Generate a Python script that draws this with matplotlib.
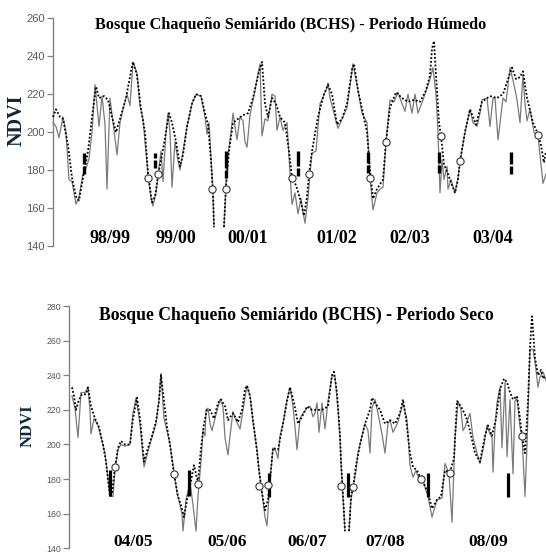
import numpy as np
import matplotlib
matplotlib.use("Agg")
import matplotlib.pyplot as plt

# ---------------- DATA ----------------
# Humid period panel (time axis in arbitrary composite-time units)
hum_dot_t = [53,56,60,63,68,72,76,79,83,88,93,96,99,104,108,112,116,120,126,131,133,137,141,145,148,152,155,158,162,166,169,172,176,180,183,187,192,196,201,205,208,211,213,214,219,224,226,229,233,238,243,248,253,258,262,265,268,272,276,280,285,289,292,296,300,304,307,309,312,318,324,328,332,337,342,347,352,354,358,363,367,370,373,377,383,386,390,396,402,408,414,420,426,430,432,434,436,439,441,444,448,452,455,458,460,465,470,476,482,490,497,503,508,512,516,520,523,527,533,538,541,544,546]
hum_dot_v = [208,212,208,207,193,176,166,164,176,190,212,224,218,219,217,208,200,207,218,232,237,230,212,200,178,163,166,177,188,200,210,205,195,182,188,203,215,220,219,210,204,185,168,150,np.nan,150,172,190,205,207,209,210,218,230,237,215,208,218,215,208,205,190,176,172,165,156,166,178,190,208,220,225,220,204,207,215,233,236,222,210,200,180,165,170,175,195,213,221,218,216,217,216,222,230,244,248,230,205,198,183,178,172,168,175,185,200,212,204,216,219,218,220,228,234,228,229,232,218,205,199,193,184,190]

hum_sol_t = [53,56,59,63,66,69,72,76,79,83,86,89,92,95,99,102,105,107,110,113,117,120,123,127,130,133,137,140,143,145,148,151,153,156,158,161,163,166,168,170,172,175,178,180,183,187,192,196,201,205,207,209,211,213,214,219,224,226,228,231,233,237,240,243,245,247,250,255,260,262,265,268,272,275,277,280,283,287,290,292,295,298,301,303,305,308,310,312,316,320,326,328,330,334,338,343,347,353,358,362,367,370,373,377,380,383,386,390,394,398,402,405,408,412,415,418,423,430,433,436,438,440,442,444,447,448,451,455,458,460,465,470,473,477,480,482,487,490,493,495,498,500,503,506,510,514,517,520,523,525,527,530,534,538,543,546]
hum_sol_v = [205,203,197,208,200,175,174,162,166,178,181,186,200,225,203,219,204,170,218,205,188,205,212,220,214,237,231,214,207,195,178,165,161,168,177,190,174,200,210,200,171,195,185,180,190,203,215,220,219,208,199,205,186,168,150,np.nan,150,172,188,200,210,196,208,206,195,192,209,222,236,198,207,206,220,219,201,208,201,205,178,162,168,157,165,158,152,165,178,189,190,215,222,226,218,210,202,208,213,236,222,210,205,176,159,168,170,171,195,217,216,221,215,211,220,210,220,210,217,228,234,220,200,168,185,175,182,170,175,168,176,184,200,212,205,203,210,217,218,203,218,218,196,205,218,216,234,225,217,205,230,215,206,212,200,198,173,178]

hum_circ_t = [148,158,212,226,292,309,370,386,441,460,538]
hum_circ_v = [176,178,170,170,176,178,176,195,198,185,198.5]

hum_bar_t = [84,155,226,298,368,439,511]
hum_bar_lo = [178,181,176,177,178.5,178.5,178]
hum_bar_hi = [189,189,190,190,189.5,189.5,189.5]

hum_years = ["98/99","99/00","00/01","01/02","02/03","03/04"]

# Dry period panel
dry_dot_t = [72,74,76,79,82,86,88,91,95,99,103,106,108,110,112,115,118,121,125,130,133,137,140,144,148,152,156,159,161,164,167,170,174,178,181,184,187,190,194,198,201,204,207,210,214,218,221,225,228,233,238,242,245,247,250,254,257,259,262,265,268,270,273,278,283,287,290,294,298,302,307,312,317,322,328,332,334,337,340,341,343,345,347,349,351,353,356,360,365,370,372,375,380,385,390,395,400,403,406,410,413,417,421,425,428,432,437,441,445,450,454,457,461,466,470,475,480,485,488,492,496,500,504,507,510,513,517,520,522,525,528,530,532,535,538,541,543,546]
dry_dot_v = [233,228,220,226,229,229,233,222,215,210,200,190,180,170,172,187,198,202,200,200,215,227,215,190,198,205,213,225,240,225,210,200,183,170,165,158,168,176,188,178,198,212,220,220,215,224,226,222,214,218,213,220,232,234,228,210,196,185,172,162,168,180,198,197,212,225,233,224,212,216,222,220,220,220,222,240,242,230,205,190,170,150,np.nan,150,170,175,188,200,212,220,227,224,220,212,214,212,218,226,215,195,187,185,180,176,172,163,168,170,185,184,192,225,222,216,208,195,190,205,211,205,215,232,238,236,230,226,228,215,205,195,225,256,274,250,240,243,238,240]

dry_sol_t = [72,75,78,81,85,88,90,91,94,98,102,105,108,110,113,115,118,121,125,130,133,136,140,144,148,152,156,159,161,164,167,170,174,177,180,182,183,186,190,193,196,198,201,203,205,206,208,210,212,215,220,223,225,228,230,233,236,240,243,247,250,253,257,259,262,265,267,269,271,273,276,278,280,283,287,290,293,295,297,300,303,307,310,313,315,317,319,322,325,328,332,335,338,340,341,343,345,347,349,351,353,356,358,362,365,368,370,372,375,378,382,385,388,390,393,398,403,407,410,413,416,419,422,425,428,432,437,442,445,449,452,455,458,461,463,465,470,473,477,480,484,487,490,492,493,495,497,500,502,505,507,510,513,515,517,520,522,525,527,530,533,535,538,540,543,546]
dry_sol_v = [228,221,204,230,230,233,220,206,215,211,202,195,180,170,170,185,197,200,199,200,218,227,212,187,196,204,212,226,241,215,208,200,184,172,165,160,150,168,178,165,150,170,190,208,205,220,221,212,208,215,226,222,204,194,205,219,214,209,220,234,228,213,197,185,172,158,153,170,185,198,196,192,205,212,226,233,222,210,197,215,218,221,222,216,218,224,207,224,209,225,240,239,220,204,190,170,150,np.nan,150,168,175,185,195,205,212,208,195,221,226,218,206,195,212,214,207,213,224,214,188,181,185,180,182,175,170,158,168,169,189,183,155,204,225,220,208,210,218,204,195,189,200,211,206,204,184,210,224,233,198,236,193,226,183,225,227,210,205,170,200,255,255,248,233,239,242,237]

dry_circ_t = [115,174,198,259,268,341,353,421,450,522]
dry_circ_v = [187,183,177,176,176.5,176,175.4,180,183.5,205]

dry_bar_t = [110,189,269,348,428,508]
dry_bar_lo = [170,170,169.6,169.6,169.6,169.6]
dry_bar_hi = [185,185,183.5,183.5,183.5,183.5]

dry_years = ["04/05","05/06","06/07","07/08","08/09"]

# ---------------- LAYOUT ----------------
W, H = 546, 553
fig = plt.figure(figsize=(W/100, H/100), dpi=100)
fig.patch.set_facecolor("white")

def fx(px): return px / W
def fy(py): return 1 - py / H

ax1 = fig.add_axes([fx(52.7), fy(246), 1 - fx(52.7), fy(18.3) - fy(246)])
ax2 = fig.add_axes([fx(69), fy(548.3), 1 - fx(69), fy(306) - fy(548.3)])

GRAY = "#7a7a7a"
TICKC = "#808080"
LABC = "#5a5a5a"

def style(ax, ylim, yt, lsize, xlim):
    ax.set_xlim(*xlim)
    ax.set_ylim(*ylim)
    ax.set_yticks(yt)
    ax.set_xticks([])
    for s in ["top", "right", "bottom"]:
        ax.spines[s].set_visible(False)
    ax.spines["left"].set_color(TICKC)
    ax.spines["left"].set_linewidth(1.0)
    ax.tick_params(axis="y", direction="out", length=4, width=0.9, color=TICKC,
                   labelcolor=LABC, labelsize=lsize, pad=1.5)
    for lab in ax.get_yticklabels():
        lab.set_family("Liberation Sans")

style(ax1, (140, 260), np.arange(140, 261, 20), 8.0, (52.7, 546))
style(ax2, (140, 280), np.arange(140, 281, 20), 6.3, (69, 546))

def draw(ax, st, sv, dt, dv, ct, cv, bt, blo, bhi, bar_style):
    ax.plot(st, sv, color=GRAY, lw=0.9, zorder=2, clip_on=False)
    ax.plot(dt, dv, color="black", lw=1.3, linestyle=(0, (1, 1.1)), zorder=3, clip_on=False)
    if bar_style == "excl":
        ax.vlines(bt, blo, bhi, colors="black", lw=2.4, zorder=4,
                  linestyles=[(0, (2.4, 0.6, 6.5, 30))], capstyle="butt")
    else:
        ax.vlines(bt, blo, bhi, colors="black", lw=2.3, zorder=4)
    ax.plot(ct, cv, linestyle="none", marker="o", ms=5.2, mfc="white",
            mec="#333333", mew=0.8, zorder=5, clip_on=False)

draw(ax1, hum_sol_t, hum_sol_v, hum_dot_t, hum_dot_v, hum_circ_t, hum_circ_v,
     hum_bar_t, hum_bar_lo, hum_bar_hi, "excl")
draw(ax2, dry_sol_t, dry_sol_v, dry_dot_t, dry_dot_v, dry_circ_t, dry_circ_v,
     dry_bar_t, dry_bar_lo, dry_bar_hi, "solid")

# year labels
hum_year_x = [110, 176, 248, 337, 410, 493]
for lab, x in zip(hum_years, hum_year_x):
    fig.text(fx(x), fy(238), lab, ha="center", va="center", fontsize=13,
             fontweight="bold", family="Liberation Serif")
dry_year_x = [133, 227, 307, 385, 488]
for lab, x in zip(dry_years, dry_year_x):
    fig.text(fx(x), fy(542), lab, ha="center", va="center", fontsize=12.5,
             fontweight="bold", family="Liberation Serif")

# titles
fig.text(fx(291), fy(25), "Bosque Chaqueño Semiárido (BCHS) - Periodo Húmedo",
         ha="center", va="center", fontsize=11.7, fontweight="bold", family="Liberation Serif")
fig.text(fx(296), fy(315), "Bosque Chaqueño Semiárido (BCHS) - Periodo Seco",
         ha="center", va="center", fontsize=12.7, fontweight="bold", family="Liberation Serif")

# y labels
fig.text(fx(16.5), fy(120), "NDVI", rotation=90, ha="center", va="center",
         fontsize=14.5, fontweight="bold", family="Liberation Serif", color="#10283a")
fig.text(fx(27.5), fy(426), "NDVI", rotation=90, ha="center", va="center",
         fontsize=12, fontweight="bold", family="Liberation Serif", color="#10283a")

fig.savefig("out.png", dpi=100, facecolor="white")
